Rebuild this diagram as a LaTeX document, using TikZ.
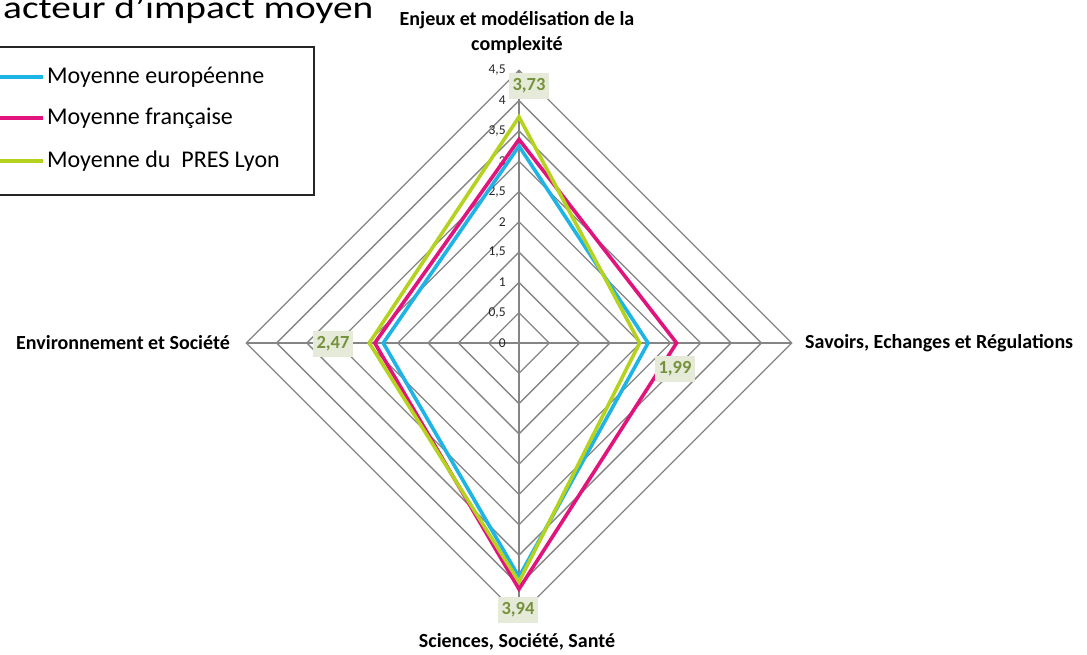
\documentclass[tikz,border=0pt]{standalone}
\usepackage{fontspec}
\setmainfont{Carlito}
\usetikzlibrary{calc}
\definecolor{gridgray}{HTML}{858585}
\definecolor{eublue}{HTML}{1EB4E6}
\definecolor{frmag}{HTML}{E0147C}
\definecolor{lygreen}{HTML}{B4D21E}
\definecolor{valtext}{HTML}{76923C}
\definecolor{valfill}{HTML}{E6EAD8}
\tikzset{
  gridline/.style={draw=gridgray, line width=1.3pt},
  serie/.style={line width=3.6pt, line join=miter},
  ticklab/.style={font=\fontsize{13.5}{15}\selectfont, text=black!85, anchor=east, inner sep=1pt},
  axislab/.style={font=\fontsize{20}{22}\bfseries\selectfont, align=center, inner sep=0pt},
  vallab/.style={fill=valfill, text=valtext, font=\fontsize{18.5}{20}\bfseries\selectfont, minimum width=40pt, minimum height=26pt, inner sep=2pt},
  legtext/.style={font=\fontsize{24}{28}\selectfont, anchor=west, inner sep=0pt},
}
\begin{document}
\begin{tikzpicture}[x=1pt,y=-1pt]
\useasboundingbox (0,0) rectangle (1087,655);
\fill[white] (0,0) rectangle (1087,655);
% title
\node[anchor=base west, inner sep=0pt, font=\fontsize{32}{36}\selectfont] (title) at (3,19) {\scalebox{1.23}[1]{acteur d’impact moyen}};
% legend
\draw[black!85, line width=1.4pt] (-5,47) rectangle (314,195);
\coordinate (l1a) at (-5,77);  \coordinate (l1b) at (43,77);
\coordinate (l2a) at (-5,118); \coordinate (l2b) at (43,118);
\coordinate (l3a) at (-5,161); \coordinate (l3b) at (43,161);
\draw[eublue, line width=4pt] (l1a) -- (l1b);
\draw[frmag, line width=4pt] (l2a) -- (l2b);
\draw[lygreen, line width=4pt] (l3a) -- (l3b);
\node[legtext] (leg1) at (47,77) {Moyenne européenne};
\node[legtext] (leg2) at (47,118) {Moyenne française};
\node[legtext] (leg3) at (47,161) {Moyenne du\ \ PRES Lyon};
% radar
\begin{scope}[shift={(519,343)}, x=60.6pt, y=60.6pt]
  \coordinate (O) at (0,0);
  \foreach \r in {0.5,1,1.5,2,2.5,3,3.5,4,4.5}
    \draw[gridline] (0,\r) -- (\r,0) -- (0,-\r) -- (-\r,0) -- cycle;
  \draw[gridline] (0,4.5) -- (0,-4.5);
  \draw[gridline] (-4.5,0) -- (4.5,0);
  \foreach \r/\t in {0/0,0.5/{0,5},1/1,1.5/{1,5},2/2,2.5/{2,5},3/3,3.5/{3,5},4/4,4.5/{4,5}}
    \node[ticklab] at (-0.2,\r) {\t};
  % series
  \draw[serie, eublue] (0,3.25) -- (2.13,0) -- (0,-3.86) -- (-2.24,0) -- cycle;
  \draw[serie, frmag] (0,3.36) -- (2.6,0) -- (0,-4.06) -- (-2.38,0) -- cycle;
  \draw[serie, lygreen] (0,3.73) -- (1.99,0) -- (0,-3.94) -- (-2.47,0) -- cycle;
\end{scope}
% value labels
\node[vallab] (v1) at (529,86) {3,73};
\node[vallab] (v2) at (675,369) {1,99};
\node[vallab] (v3) at (518,610) {3,94};
\node[vallab] (v4) at (333,344) {2,47};
% axis labels
\node[axislab] (a1) at (517,33) {Enjeux et modélisation de la\\[3pt]complexité};
\node[axislab, anchor=west] (a2) at (805,343) {Savoirs, Echanges et Régulations};
\node[axislab] (a3) at (517,642) {Sciences, Société, Santé};
\node[axislab, anchor=east] (a4) at (230,343) {Environnement et Société};
\end{tikzpicture}
\end{document}
